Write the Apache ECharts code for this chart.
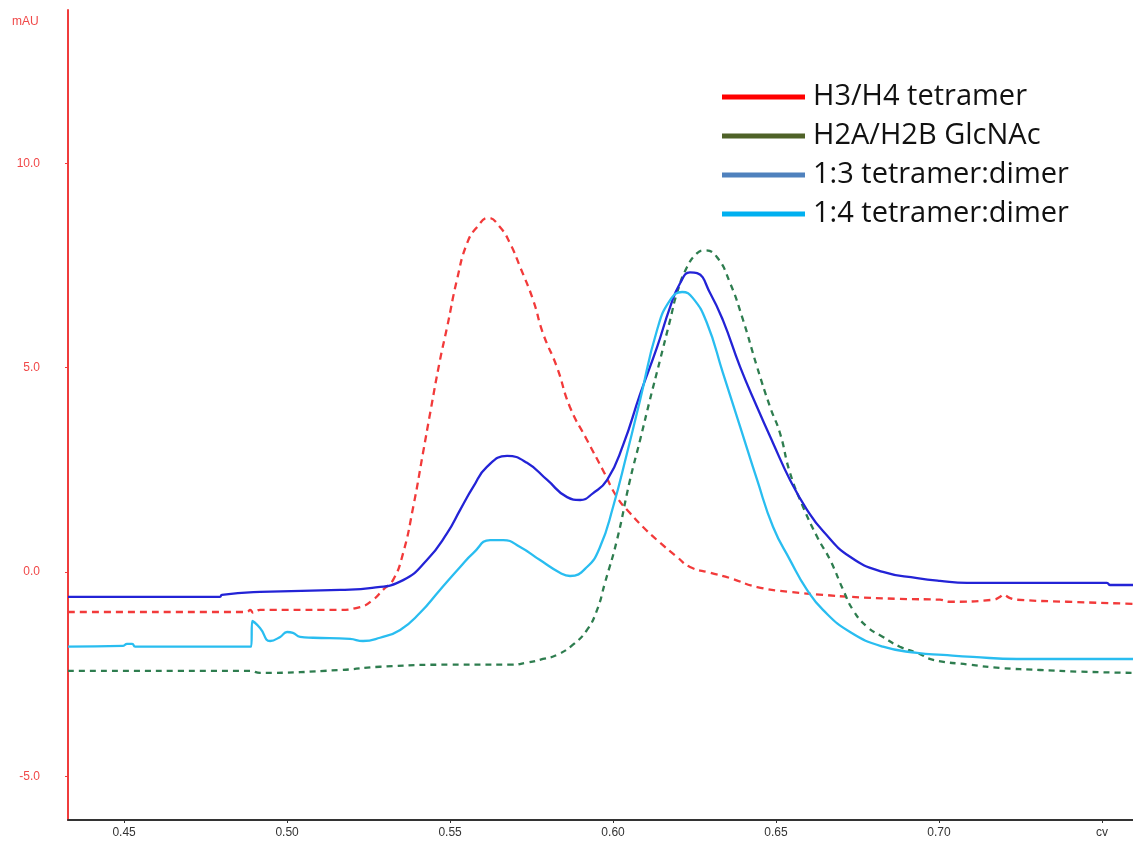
<!DOCTYPE html>
<html>
<head>
<meta charset="utf-8">
<title>SEC chromatogram</title>
<script src="https://cdn.jsdelivr.net/npm/echarts@6/dist/echarts.min.js"></script>
<style>
  html, body { margin: 0; padding: 0; background: #fff; }
  #chart { width: 1133px; height: 846px; }
</style>
</head>
<body>
<div id="chart"></div>
<script>
// legend names and legend swatch colours
const seriesNames = ['H3/H4 tetramer', 'H2A/H2B GlcNAc', '1:3 tetramer:dimer', '1:4 tetramer:dimer']
const legendColors = ['#ff0000', '#4f6228', '#4f81bd', '#00b0f0']

// axis ticks
const xTicks = [0.45, 0.50, 0.55, 0.60, 0.65, 0.70, 0.75]
const yTicks = [-5, 0, 5, 10]

// traces: [cv, mAU]
const h3h4 = [
  [0.4328, -0.98], [0.4877, -0.98], [0.4887, -0.93], [0.4896, -1.00], [0.4917, -0.93],
  [0.5153, -0.93], [0.5224, -0.86], [0.5264, -0.68], [0.5294, -0.44], [0.5325, -0.20],
  [0.5356, 0.46], [0.5387, 1.59], [0.5417, 2.91], [0.5439, 3.89], [0.5469, 5.18],
  [0.5491, 5.99], [0.5521, 7.14], [0.5552, 8.04], [0.5583, 8.44], [0.5617, 8.66],
  [0.5653, 8.44], [0.5684, 8.04], [0.5715, 7.46], [0.5755, 6.65], [0.5785, 5.84],
  [0.5828, 5.01], [0.5868, 4.03], [0.5920, 3.23], [0.5969, 2.49], [0.6012, 1.83],
  [0.6052, 1.44], [0.6092, 1.10], [0.6135, 0.78], [0.6196, 0.37], [0.6236, 0.12],
  [0.6298, -0.02], [0.6359, -0.15], [0.6442, -0.37], [0.6543, -0.49], [0.6644, -0.56],
  [0.6727, -0.61], [0.6880, -0.66], [0.7003, -0.68], [0.7034, -0.73], [0.7166, -0.68],
  [0.7187, -0.61], [0.7196, -0.56], [0.7218, -0.64], [0.7239, -0.68], [0.7393, -0.73],
  [0.7595, -0.78]
]
const h2ah2b = [
  [0.4328, -2.42], [0.4887, -2.42], [0.4917, -2.47], [0.5163, -2.40], [0.5285, -2.32],
  [0.5500, -2.27], [0.5684, -2.27], [0.5736, -2.22], [0.5785, -2.13], [0.5828, -2.03],
  [0.5877, -1.78], [0.5920, -1.42], [0.5951, -0.93], [0.5975, -0.27], [0.6012, 0.78],
  [0.6052, 2.25], [0.6083, 3.23], [0.6113, 4.21], [0.6144, 5.18], [0.6175, 6.16],
  [0.6196, 6.82], [0.6227, 7.46], [0.6258, 7.80], [0.6282, 7.87], [0.6319, 7.70],
  [0.6359, 7.07], [0.6399, 6.16], [0.6442, 5.01], [0.6482, 4.03], [0.6512, 3.40],
  [0.6543, 2.42], [0.6583, 1.59], [0.6626, 0.86], [0.6666, 0.29], [0.6706, -0.44],
  [0.6736, -0.93], [0.6779, -1.34], [0.6828, -1.59], [0.6880, -1.83], [0.6933, -1.98],
  [0.6982, -2.15], [0.7095, -2.27], [0.7187, -2.35], [0.7310, -2.40], [0.7433, -2.44],
  [0.7595, -2.47]
]
const mix13 = [
  [0.4328, -0.61], [0.4794, -0.61], [0.4800, -0.56], [0.4917, -0.49], [0.5163, -0.44],
  [0.5261, -0.39], [0.5356, -0.20], [0.5429, 0.29], [0.5491, 0.95], [0.5531, 1.52],
  [0.5571, 2.08], [0.5613, 2.57], [0.5675, 2.84], [0.5736, 2.67], [0.5798, 2.25],
  [0.5859, 1.83], [0.5899, 1.76], [0.5939, 1.93], [0.5982, 2.25], [0.6031, 3.11],
  [0.6083, 4.35], [0.6135, 5.50], [0.6175, 6.48], [0.6206, 7.07], [0.6236, 7.33],
  [0.6258, 7.31], [0.6298, 6.82], [0.6337, 6.16], [0.6390, 5.01], [0.6442, 4.03],
  [0.6491, 3.15], [0.6543, 2.25], [0.6595, 1.52], [0.6644, 1.00], [0.6727, 0.37],
  [0.6828, 0.00], [0.6933, -0.15], [0.7003, -0.22], [0.7086, -0.27], [0.7515, -0.27],
  [0.7525, -0.32], [0.7595, -0.32]
]
const mix14 = [
  [0.4328, -1.83], [0.4497, -1.81], [0.4509, -1.76], [0.4525, -1.76], [0.4534, -1.83],
  [0.4890, -1.83], [0.4893, -1.20], [0.4917, -1.37], [0.4948, -1.69], [0.4979, -1.59],
  [0.5000, -1.47], [0.5018, -1.49], [0.5040, -1.59], [0.5080, -1.61], [0.5193, -1.64],
  [0.5233, -1.69], [0.5285, -1.61], [0.5347, -1.42], [0.5408, -1.00], [0.5469, -0.44],
  [0.5531, 0.12], [0.5571, 0.46], [0.5623, 0.78], [0.5663, 0.78], [0.5715, 0.61],
  [0.5776, 0.29], [0.5837, -0.02], [0.5868, -0.10], [0.5920, 0.12], [0.5960, 0.61],
  [0.6000, 1.59], [0.6043, 2.91], [0.6083, 4.21], [0.6135, 5.92], [0.6175, 6.65],
  [0.6212, 6.85], [0.6245, 6.70], [0.6288, 6.09], [0.6337, 4.87], [0.6390, 3.55],
  [0.6442, 2.25], [0.6491, 1.10], [0.6543, 0.29], [0.6595, -0.44], [0.6644, -0.93],
  [0.6727, -1.47], [0.6828, -1.83], [0.6933, -1.98], [0.7012, -2.03], [0.7104, -2.08],
  [0.7239, -2.13], [0.7595, -2.13]
]

const myChart = echarts.init(document.getElementById('chart'))

function trace (name, data, color, type) {
  return {
    name: name,
    type: 'line',
    data: data,
    showSymbol: false,
    symbol: 'none',
    smooth: 0.5,
    lineStyle: { color: color, width: 2.3, type: type },
    itemStyle: { color: color }
  }
}

const option = {
  animation: false,
  backgroundColor: '#fff',
  title: {
    text: 'mAU',
    left: 7,
    top: 11,
    textStyle: { color: '#f04848', fontSize: 12, fontWeight: 'normal', fontFamily: 'Liberation Sans' }
  },
  legend: {
    orient: 'vertical',
    left: 722,
    top: 82,
    padding: 0,
    icon: 'rect',
    itemWidth: 83,
    itemHeight: 5,
    itemGap: 9,
    textStyle: { color: '#111', fontSize: 29, fontFamily: 'Open Sans', lineHeight: 30, padding: [0, 0, 0, 3] },
    data: seriesNames.map((n, i) => ({ name: n, itemStyle: { color: legendColors[i], borderWidth: 0 } }))
  },
  grid: { left: 68, right: 0, top: 10, bottom: 26 },
  xAxis: {
    type: 'value',
    min: 0.4328,
    max: 0.7595,
    splitLine: { show: false },
    axisLine: { onZero: false, lineStyle: { color: '#333', width: 2 } },
    axisTick: { customValues: xTicks, length: 3, lineStyle: { color: '#333' } },
    axisLabel: {
      customValues: xTicks,
      margin: 7,
      color: '#333',
      fontSize: 12,
      fontFamily: 'Liberation Sans',
      formatter: v => (Math.abs(v - 0.75) < 1e-6 ? 'cv' : v.toFixed(2))
    }
  },
  yAxis: {
    type: 'value',
    min: -6.07,
    max: 13.75,
    splitLine: { show: false },
    axisLine: { lineStyle: { color: '#f03c3c', width: 2 } },
    axisTick: { customValues: yTicks, length: 3, lineStyle: { color: '#f03c3c' } },
    axisLabel: {
      customValues: yTicks,
      margin: 28,
      color: '#f04848',
      fontSize: 12,
      fontFamily: 'Liberation Sans',
      formatter: v => v.toFixed(1)
    }
  },
  series: [
    trace(seriesNames[0], h3h4, '#f23a3a', [7, 5]),
    trace(seriesNames[1], h2ah2b, '#2e7d4f', [6, 5]),
    trace(seriesNames[2], mix13, '#2323d6', 'solid'),
    trace(seriesNames[3], mix14, '#29bdf0', 'solid')
  ]
}

myChart.setOption(option)
</script>
</body>
</html>
